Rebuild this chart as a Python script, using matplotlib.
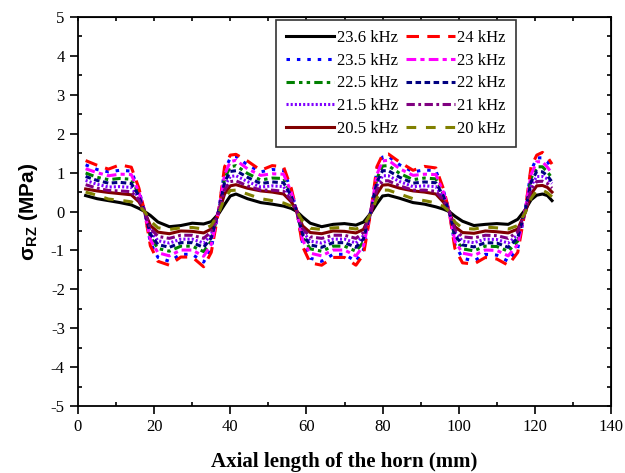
import matplotlib
matplotlib.use('Agg')
import matplotlib.pyplot as plt

plt.rcParams['font.family'] = ['Liberation Serif', 'DejaVu Serif']
plt.rcParams['axes.unicode_minus'] = False
plt.rcParams['lines.scale_dashes'] = False
plt.rcParams['mathtext.fontset'] = 'custom'
plt.rcParams['mathtext.bf'] = 'Liberation Sans:bold'
plt.rcParams['mathtext.rm'] = 'Liberation Sans:bold'

# axial position (mm)
x = [2, 5, 8, 11, 14, 16, 17.5, 19, 21, 24, 27, 30, 33, 35, 37, 38.5, 40,
     41.5, 44.5, 48, 51, 54, 56, 57.5, 59, 61, 64, 67, 70, 73, 75, 77, 78.5, 80,
     81.5, 84.5, 88, 91, 94, 96, 97.5, 99, 101, 104, 107, 110, 113, 115.5, 117.5, 119, 120.5,
     122, 123.3, 124.5]

# shear stress (MPa) per frequency
s_236 = [0.41, 0.33, 0.28, 0.23, 0.17, 0.08, 0.00, -0.10, -0.27, -0.39, -0.36, -0.30, -0.32, -0.26, -0.05, 0.18, 0.40,
         0.45, 0.33, 0.23, 0.19, 0.14, 0.08, 0.00, -0.14, -0.30, -0.39, -0.33, -0.31, -0.35, -0.27, -0.03, 0.20, 0.40,
         0.42, 0.34, 0.23, 0.19, 0.12, 0.06, 0.00, -0.12, -0.25, -0.36, -0.33, -0.31, -0.33, -0.20, 0.05, 0.30, 0.42,
         0.45, 0.41, 0.28]
s_24 = [1.31, 1.19, 1.09, 1.20, 1.14, 0.60, 0.00, -0.88, -1.28, -1.38, -1.17, -1.17, -1.42, -1.05, 0.05, 1.15, 1.45,
        1.47, 1.30, 1.06, 1.18, 1.15, 0.60, 0.00, -0.90, -1.32, -1.38, -1.18, -1.18, -1.38, -1.10, 0.05, 1.15, 1.46,
        1.48, 1.27, 1.06, 1.16, 1.12, 0.58, 0.00, -0.95, -1.32, -1.35, -1.18, -1.22, -1.38, -1.05, 0.05, 1.15, 1.45,
        1.52, 1.40, 1.22]
s_235 = [1.20, 1.08, 1.02, 1.06, 1.04, 0.55, 0.00, -0.80, -1.18, -1.28, -1.10, -1.10, -1.30, -0.95, 0.05, 1.05, 1.38,
         1.42, 1.20, 1.02, 1.08, 1.06, 0.55, 0.00, -0.82, -1.20, -1.28, -1.10, -1.10, -1.28, -0.98, 0.05, 1.05, 1.40,
         1.42, 1.20, 1.02, 1.07, 1.05, 0.54, 0.00, -0.85, -1.20, -1.27, -1.10, -1.12, -1.28, -0.95, 0.05, 1.05, 1.38,
         1.38, 1.28, 1.10]
s_23 = [1.10, 1.00, 0.92, 0.96, 0.95, 0.50, 0.00, -0.72, -1.06, -1.14, -0.99, -0.99, -1.15, -0.85, 0.05, 0.95, 1.28,
        1.32, 1.10, 0.93, 0.97, 0.96, 0.50, 0.00, -0.74, -1.07, -1.14, -0.99, -0.99, -1.14, -0.88, 0.05, 0.95, 1.30,
        1.32, 1.10, 0.93, 0.96, 0.95, 0.49, 0.00, -0.76, -1.07, -1.13, -0.99, -1.00, -1.14, -0.85, 0.05, 0.95, 1.28,
        1.28, 1.14, 0.98]
s_225 = [0.99, 0.88, 0.82, 0.85, 0.83, 0.45, 0.00, -0.65, -0.95, -1.02, -0.89, -0.89, -1.03, -0.76, 0.04, 0.85, 1.15,
         1.18, 0.98, 0.81, 0.86, 0.85, 0.45, 0.00, -0.66, -0.96, -1.02, -0.89, -0.89, -1.02, -0.78, 0.04, 0.85, 1.17,
         1.18, 0.98, 0.82, 0.86, 0.84, 0.44, 0.00, -0.68, -0.96, -1.01, -0.89, -0.90, -1.02, -0.76, 0.04, 0.85, 1.15,
         1.15, 1.02, 0.86]
s_22 = [0.90, 0.80, 0.73, 0.75, 0.72, 0.40, 0.00, -0.58, -0.85, -0.92, -0.80, -0.80, -0.92, -0.68, 0.04, 0.76, 1.03,
        1.05, 0.88, 0.72, 0.76, 0.74, 0.40, 0.00, -0.59, -0.86, -0.92, -0.80, -0.80, -0.92, -0.70, 0.04, 0.76, 1.05,
        1.05, 0.88, 0.73, 0.76, 0.74, 0.39, 0.00, -0.61, -0.86, -0.91, -0.80, -0.81, -0.92, -0.68, 0.04, 0.76, 1.03,
        1.02, 0.92, 0.76]
s_215 = [0.80, 0.70, 0.63, 0.64, 0.62, 0.35, 0.00, -0.50, -0.75, -0.81, -0.71, -0.71, -0.81, -0.60, 0.03, 0.66, 0.90,
         0.92, 0.77, 0.63, 0.66, 0.64, 0.35, 0.00, -0.51, -0.76, -0.81, -0.71, -0.71, -0.81, -0.62, 0.03, 0.66, 0.92,
         0.92, 0.77, 0.64, 0.66, 0.64, 0.34, 0.00, -0.53, -0.76, -0.80, -0.71, -0.72, -0.81, -0.60, 0.03, 0.66, 0.90,
         0.90, 0.84, 0.72]
s_21 = [0.69, 0.60, 0.54, 0.53, 0.51, 0.30, 0.00, -0.43, -0.64, -0.69, -0.61, -0.61, -0.69, -0.52, 0.02, 0.56, 0.77,
        0.79, 0.66, 0.55, 0.55, 0.52, 0.30, 0.00, -0.44, -0.65, -0.69, -0.61, -0.61, -0.69, -0.54, 0.02, 0.56, 0.79,
        0.79, 0.66, 0.55, 0.55, 0.52, 0.29, 0.00, -0.46, -0.65, -0.68, -0.61, -0.62, -0.69, -0.52, 0.02, 0.56, 0.77,
        0.78, 0.72, 0.60]
s_205 = [0.58, 0.53, 0.49, 0.46, 0.43, 0.25, 0.00, -0.36, -0.53, -0.57, -0.50, -0.51, -0.55, -0.45, -0.02, 0.45, 0.66,
         0.69, 0.60, 0.53, 0.50, 0.45, 0.25, 0.00, -0.37, -0.54, -0.57, -0.50, -0.51, -0.55, -0.46, -0.02, 0.45, 0.68,
         0.69, 0.60, 0.53, 0.50, 0.45, 0.24, 0.00, -0.39, -0.54, -0.56, -0.50, -0.52, -0.55, -0.45, -0.02, 0.45, 0.66,
         0.67, 0.62, 0.50]
s_20 = [0.50, 0.42, 0.32, 0.29, 0.25, 0.15, 0.00, -0.24, -0.42, -0.46, -0.42, -0.41, -0.45, -0.36, -0.03, 0.34, 0.54,
        0.55, 0.45, 0.33, 0.28, 0.22, 0.14, 0.00, -0.25, -0.43, -0.46, -0.42, -0.41, -0.45, -0.37, -0.03, 0.34, 0.55,
        0.55, 0.45, 0.33, 0.28, 0.22, 0.13, 0.00, -0.27, -0.43, -0.45, -0.40, -0.42, -0.45, -0.36, -0.03, 0.34, 0.54,
        0.55, 0.48, 0.38]

series = [
    ('23.6 kHz', s_236, 'black', '-'),
    ('23.5 kHz', s_235, '#0000FF', (0, (2.5, 5))),
    ('22.5 kHz', s_225, '#008000', (0, (6, 3, 2.5, 3, 2.5, 3))),
    ('21.5 kHz', s_215, '#8000FF', (0, (1.5, 1.5))),
    ('20.5 kHz', s_205, '#800000', '-'),
    ('24 kHz', s_24, '#FF0000', (0, (9, 6))),
    ('23 kHz', s_23, '#FF00FF', (0, (7, 3, 3, 3))),
    ('22 kHz', s_22, '#000080', (0, (4, 2.5))),
    ('21 kHz', s_21, '#800080', (0, (6, 2.5, 2, 2.5))),
    ('20 kHz', s_20, '#808000', (0, (7, 7))),
]

fig = plt.figure(figsize=(6.25, 4.73), dpi=100)
ax = fig.add_axes([0.1248, 0.1416, 0.8528, 0.8224])

for label, y, c, ls in series:
    ax.plot(x, y, color=c, linestyle=ls, linewidth=2.2, label=label)

ax.set_xlim(0, 140)
ax.set_ylim(-5, 5)
ax.set_xticks(range(0, 141, 20))
ax.set_yticks(range(-5, 6, 1))
ax.set_xticks(range(10, 140, 20), minor=True)
ax.set_yticks([v / 2 for v in range(-9, 10, 2)], minor=True)
ax.tick_params(which='major', direction='out', length=6, width=1.2, labelsize=12,
               top=False, right=False)
ax.tick_params(which='minor', direction='in', length=3, width=1.2, top=False, right=False)
for sp in ax.spines.values():
    sp.set_linewidth(1.3)

# inward ticks on the top and right frame
secx = ax.secondary_xaxis('top')
secx.set_xticks(range(0, 141, 10))
secx.tick_params(direction='in', length=3, width=1.2, labeltop=False)
secy = ax.secondary_yaxis('right')
secy.set_yticks([v / 2 for v in range(-10, 11)])
secy.tick_params(direction='in', length=3, width=1.2, labelright=False)

ax.set_xlabel('Axial length of the horn (mm)', fontsize=15, fontweight='bold', labelpad=12)
ax.set_ylabel(r'σ$_{\mathbf{RZ}}$ (MPa)', fontsize=15, fontweight='bold',
              family=['Liberation Sans', 'DejaVu Sans'], labelpad=8)

leg = ax.legend(ncol=2, loc='upper left', bbox_to_anchor=(0.3715, 0.9923), fontsize=12,
                handlelength=2.9, handletextpad=0.15, columnspacing=0.5,
                labelspacing=0.4, borderpad=0.6, borderaxespad=0,
                fancybox=False, framealpha=1)
leg.get_frame().set_edgecolor('#333333')
leg.get_frame().set_linewidth(1.2)

fig.savefig('out.png', dpi=100)
